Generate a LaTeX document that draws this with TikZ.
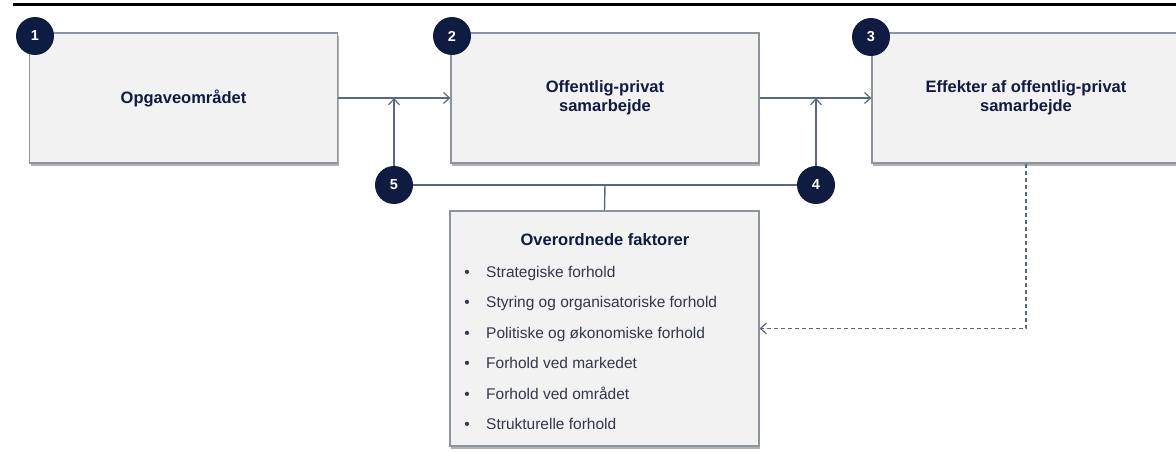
\documentclass[tikz,border=0pt]{standalone}
\usepackage{fontspec}
\setmainfont{Liberation Sans}
\usetikzlibrary{arrows.meta,shadows,positioning}
\definecolor{navy}{HTML}{0F1B40}
\definecolor{boxfill}{HTML}{F2F2F2}
\definecolor{boxline}{HTML}{8E949E}
\definecolor{conn}{HTML}{5B6780}
\definecolor{listtxt}{HTML}{33374A}
\tikzset{
  mainbox/.style={draw=boxline, fill=boxfill, line width=1.2pt, minimum width=308pt, minimum height=130pt, inner sep=0pt,
    drop shadow={shadow xshift=1pt, shadow yshift=-3pt, fill=black, opacity=0.3}},
  titletext/.style={font=\fontsize{16.5}{19}\selectfont\bfseries, text=navy, align=center},
  numcirc/.style={circle, fill=navy, minimum size=38pt, inner sep=0pt, text=white, font=\fontsize{14.5}{14.5}\selectfont\bfseries},
  connector/.style={draw=conn, line width=1.4pt},
  arrowtip/.style={-{Straight Barb[length=6pt,width=11pt,line width=1.2pt]}},
  listitem/.style={anchor=base west, text=listtxt, font=\fontsize{15.5}{18}\selectfont, inner sep=0pt},
  bulletmark/.style={anchor=base, text=listtxt, font=\fontsize{15.5}{18}\selectfont, inner sep=0pt}
}
\begin{document}
\begin{tikzpicture}[x=1pt,y=-1pt]
\useasboundingbox (0,0) rectangle (1176,452);
\clip (0,0) rectangle (1176,452);
\draw[black, line width=3pt] (13,5) -- (1180,5);
% boxes
\node[mainbox] (b1) at (183.5,98) {};
\node[mainbox] (b2) at (605,98) {};
\node[mainbox] (b3) at (1026,98) {};
\node[mainbox, minimum width=309pt, minimum height=235pt] (b4) at (604.5,328.5) {};
\node[titletext] (t1) at (b1) {Opgaveområdet};
\node[titletext] (t2) at (b2) {Offentlig-privat\\samarbejde};
\node[titletext] (t3) at (b3) {Effekter af offentlig-privat\\samarbejde};
\node[titletext] (t4) at (605,240) {Overordnede faktorer};
% list
\node[bulletmark] (p1) at (467,277.5) {\textbullet};
\node[listitem] (l1) at (486,277.5) {Strategiske forhold};
\node[bulletmark] (p2) at (467,307.5) {\textbullet};
\node[listitem] (l2) at (486,307.5) {Styring og organisatoriske forhold};
\node[bulletmark] (p3) at (467,338.5) {\textbullet};
\node[listitem] (l3) at (486,338.5) {Politiske og økonomiske forhold};
\node[bulletmark] (p4) at (467,368.5) {\textbullet};
\node[listitem] (l4) at (486,368.5) {Forhold ved markedet};
\node[bulletmark] (p5) at (467,399.5) {\textbullet};
\node[listitem] (l5) at (486,399.5) {Forhold ved området};
\node[bulletmark] (p6) at (467,429.5) {\textbullet};
\node[listitem] (l6) at (486,429.5) {Strukturelle forhold};
% circles
\node[numcirc] (c1) at (35,36) {1};
\node[numcirc] (c2) at (452,36) {2};
\node[numcirc] (c3) at (871,37) {3};
\node[numcirc] (c4) at (816,185) {4};
\node[numcirc] (c5) at (394,185) {5};
% connection points
\coordinate (j5) at (394,98);
\coordinate (j4) at (816,98);
\coordinate (jm) at (605,185);
% connectors
\draw[connector, arrowtip] (b1.east) -- (b2.west);
\draw[connector, arrowtip] (b2.east) -- (b3.west);
\draw[connector, arrowtip] (c5.north) -- (j5);
\draw[connector, arrowtip] (c4.north) -- (j4);
\draw[connector] (c5.east) -- (c4.west);
\draw[connector] (jm) -- (b4.north);
\draw[connector, line width=1.1pt, dash pattern=on 4pt off 3pt, arrowtip] (b3.south) -- (b3.south |- b4.east) -- (b4.east);
\end{tikzpicture}
\end{document}
